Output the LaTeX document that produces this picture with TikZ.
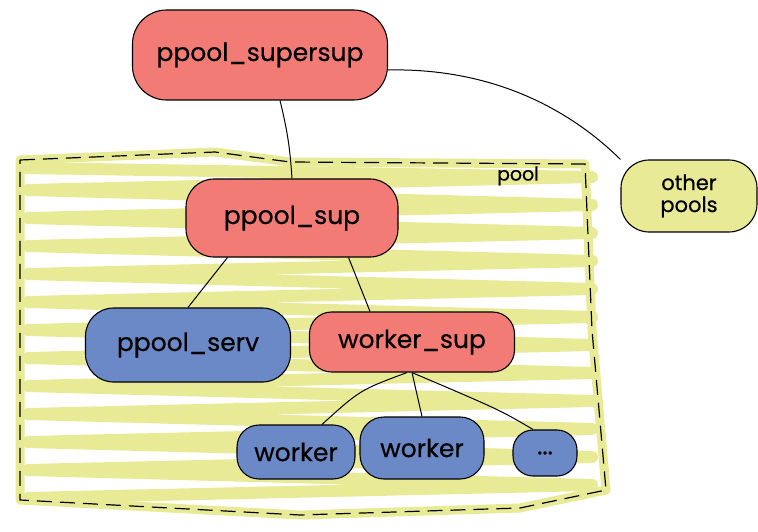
\documentclass[tikz,border=0pt]{standalone}
\usepackage{fontspec}
\setmainfont{Poppins}[FakeBold=0.5]
\usepackage{tikz}
\usepackage{xcolor}
\definecolor{supcolor}{RGB}{242,124,117}
\definecolor{workcolor}{RGB}{106,137,198}
\definecolor{poolcolor}{RGB}{232,234,150}

\begin{document}
\begin{tikzpicture}[x=1pt, y=-1pt,
  blob/.style={draw, line width=1.1pt, rounded corners=28pt, inner sep=0pt, font=\fontsize{25}{27}\selectfont},
  sup/.style={blob, fill=supcolor},
  work/.style={blob, fill=workcolor},
  link/.style={line width=1pt}]
\useasboundingbox (0,0) rectangle (758,532);

% Scribbled background of the pool
\draw[poolcolor, line width=12pt, line cap=round, line join=round]
  (24,168) \foreach \y in {168,196,...,480} { -- (592,\y+9) -- (28,\y+22) };
\draw[poolcolor, line width=9pt, line join=round]
  (20,160) -- (215,152) -- (290,162) -- (585,164) -- (592,330) -- (606,490)
  -- (520,508) -- (300,515) -- (20,500) -- cycle;

% Pool boundary (dashed)
\draw[line width=1.2pt, dash pattern=on 15pt off 8pt]
  (20,160) -- (215,152) -- (290,162) -- (585,164) -- (592,330) -- (606,490)
  -- (520,508) -- (300,515) -- (20,500) -- cycle;
\node[font=\fontsize{19}{21}\selectfont] (poollbl) at (518,176) {pool};

% Supervisors and workers
\node[sup, minimum width=255pt, minimum height=90pt, rounded corners=34pt] (supersup) at (260,55) {ppool\_supersup};
\node[blob, fill=poolcolor, minimum width=136pt, minimum height=72pt, font=\fontsize{21}{22}\selectfont, align=center] (others) at (689,196) {other\\pools};
\node[sup, minimum width=212pt, minimum height=78pt] (poolsup) at (292,218) {ppool\_sup};
\node[work, minimum width=205pt, minimum height=74pt] (serv) at (188,345) {ppool\_serv};
\node[sup, minimum width=205pt, minimum height=60pt, rounded corners=22pt] (wsup) at (412,342) {worker\_sup};
\node[work, minimum width=118pt, minimum height=54pt, rounded corners=22pt] (w1) at (296,452) {worker};
\node[work, minimum width=124pt, minimum height=62pt, rounded corners=24pt] (w2) at (422,448) {worker};
\node[work, minimum width=64pt, minimum height=46pt, rounded corners=20pt] (w3) at (545,453) {...};

% Links
\draw[link] (supersup.south) ++(20,0) to[bend left=5] (poolsup.north);
\draw[link] (supersup.east) ++(0,15) .. controls (480,68) and (560,100) .. (others.north west);
\draw[link] (poolsup.south west) ++(42,0) -- (serv.north);
\draw[link] (poolsup.south east) ++(-50,0) -- ([xshift=-42pt]wsup.north);
\draw[link] (wsup.south) ++(-5,0) .. controls (360,390) .. ([xshift=26pt]w1.north);
\draw[link] (wsup.south) -- (w2.north);
\draw[link] (wsup.south) .. controls (500,410) .. ([xshift=-12pt]w3.north);
\end{tikzpicture}
\end{document}
